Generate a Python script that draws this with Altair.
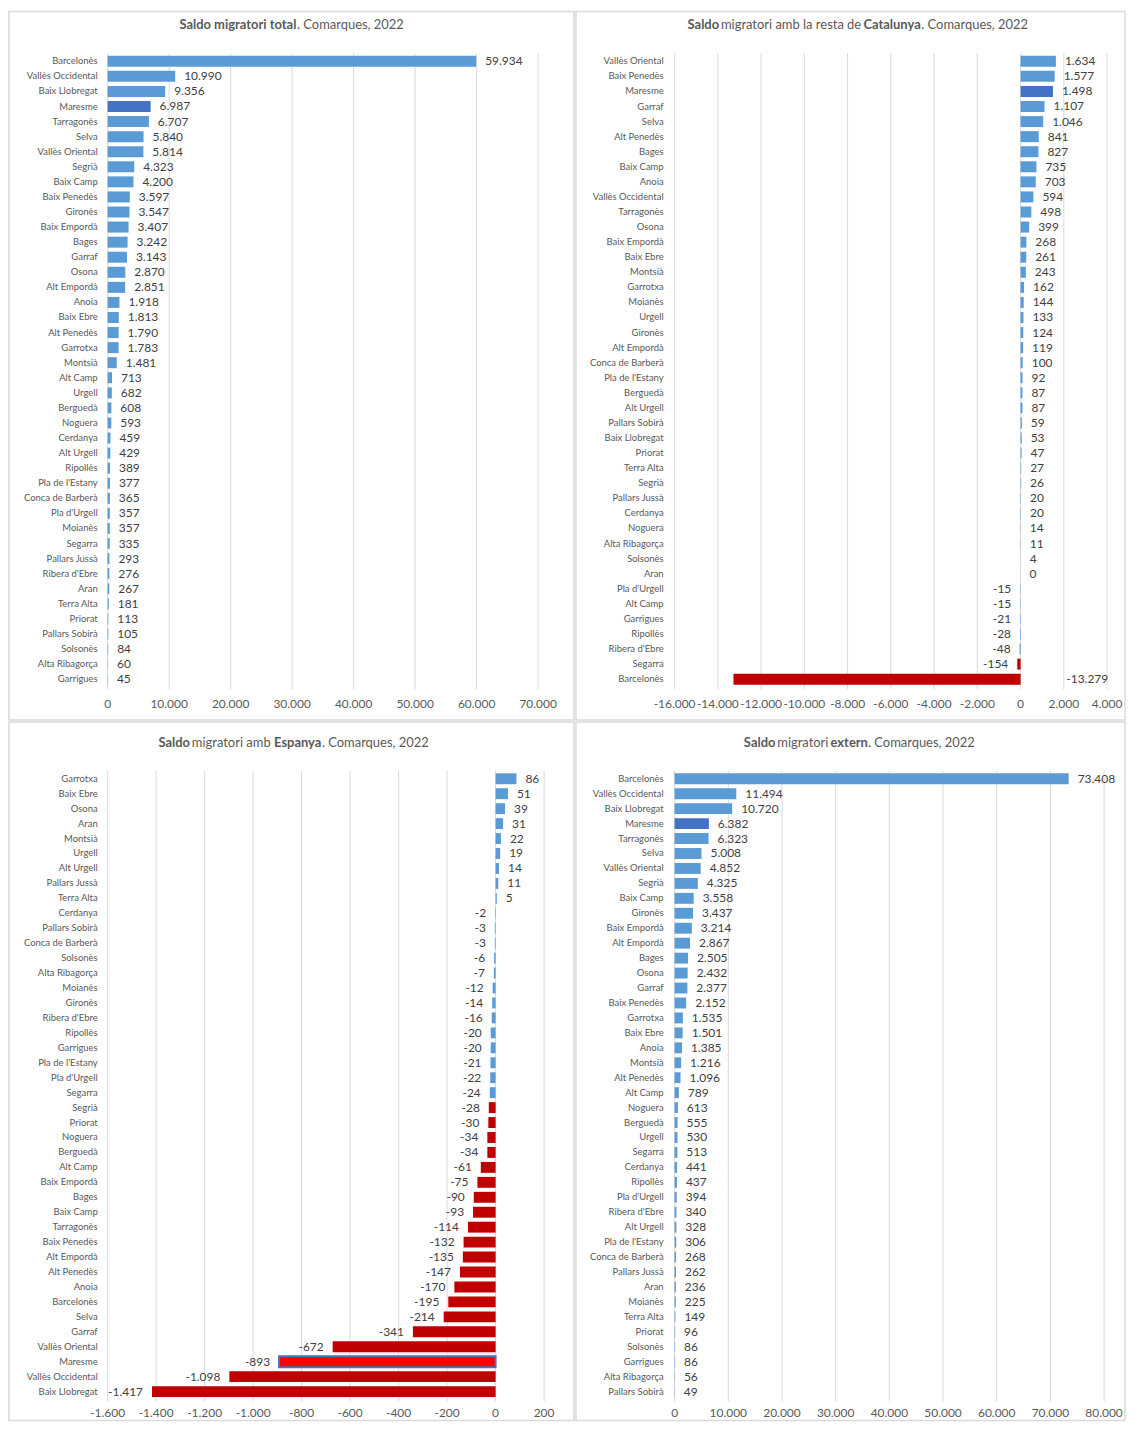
import altair as alt
import pandas as pd

FONT = "Lato"
LIGHT = "#5B9BD5"
DARK = "#4472C4"
RED = "#C00000"
BRIGHT = "#FF0000"
GRID = "#D9D9D9"
TXT = "#595959"
VAL = "#404040"

# ---------------- data ----------------
total_names = ["Barcelonès", "Vallès Occidental", "Baix Llobregat", "Maresme", "Tarragonès", "Selva",
               "Vallès Oriental", "Segrià", "Baix Camp", "Baix Penedès", "Gironès", "Baix Empordà", "Bages",
               "Garraf", "Osona", "Alt Empordà", "Anoia", "Baix Ebre", "Alt Penedès", "Garrotxa", "Montsià",
               "Alt Camp", "Urgell", "Berguedà", "Noguera", "Cerdanya", "Alt Urgell", "Ripollès",
               "Pla de l'Estany", "Conca de Barberà", "Pla d'Urgell", "Moianès", "Segarra", "Pallars Jussà",
               "Ribera d'Ebre", "Aran", "Terra Alta", "Priorat", "Pallars Sobirà", "Solsonès",
               "Alta Ribagorça", "Garrigues"]
total_vals = [59934, 10990, 9356, 6987, 6707, 5840, 5814, 4323, 4200, 3597, 3547, 3407, 3242, 3143, 2870,
              2851, 1918, 1813, 1790, 1783, 1481, 713, 682, 608, 593, 459, 429, 389, 377, 365, 357, 357,
              335, 293, 276, 267, 181, 113, 105, 84, 60, 45]
total_ticks = [0, 10000, 20000, 30000, 40000, 50000, 60000, 70000]

cat_names = ["Vallès Oriental", "Baix Penedès", "Maresme", "Garraf", "Selva", "Alt Penedès", "Bages",
             "Baix Camp", "Anoia", "Vallès Occidental", "Tarragonès", "Osona", "Baix Empordà", "Baix Ebre",
             "Montsià", "Garrotxa", "Moianès", "Urgell", "Gironès", "Alt Empordà", "Conca de Barberà",
             "Pla de l'Estany", "Berguedà", "Alt Urgell", "Pallars Sobirà", "Baix Llobregat", "Priorat",
             "Terra Alta", "Segrià", "Pallars Jussà", "Cerdanya", "Noguera", "Alta Ribagorça", "Solsonès",
             "Aran", "Pla d'Urgell", "Alt Camp", "Garrigues", "Ripollès", "Ribera d'Ebre", "Segarra",
             "Barcelonès"]
cat_vals = [1634, 1577, 1498, 1107, 1046, 841, 827, 735, 703, 594, 498, 399, 268, 261, 243, 162, 144, 133,
            124, 119, 100, 92, 87, 87, 59, 53, 47, 27, 26, 20, 20, 14, 11, 4, 0, -15, -15, -21, -28, -48,
            -154, -13279]
cat_ticks = [-16000, -14000, -12000, -10000, -8000, -6000, -4000, -2000, 0, 2000, 4000]

esp_names = ["Garrotxa", "Baix Ebre", "Osona", "Aran", "Montsià", "Urgell", "Alt Urgell", "Pallars Jussà",
             "Terra Alta", "Cerdanya", "Pallars Sobirà", "Conca de Barberà", "Solsonès", "Alta Ribagorça",
             "Moianès", "Gironès", "Ribera d'Ebre", "Ripollès", "Garrigues", "Pla de l'Estany",
             "Pla d'Urgell", "Segarra", "Segrià", "Priorat", "Noguera", "Berguedà", "Alt Camp",
             "Baix Empordà", "Bages", "Baix Camp", "Tarragonès", "Baix Penedès", "Alt Empordà",
             "Alt Penedès", "Anoia", "Barcelonès", "Selva", "Garraf", "Vallès Oriental", "Maresme",
             "Vallès Occidental", "Baix Llobregat"]
esp_vals = [86, 51, 39, 31, 22, 19, 14, 11, 5, -2, -3, -3, -6, -7, -12, -14, -16, -20, -20, -21, -22, -24,
            -28, -30, -34, -34, -61, -75, -90, -93, -114, -132, -135, -147, -170, -195, -214, -341, -672,
            -893, -1098, -1417]
esp_ticks = [-1600, -1400, -1200, -1000, -800, -600, -400, -200, 0, 200]

ext_names = ["Barcelonès", "Vallès Occidental", "Baix Llobregat", "Maresme", "Tarragonès", "Selva",
             "Vallès Oriental", "Segrià", "Baix Camp", "Gironès", "Baix Empordà", "Alt Empordà", "Bages",
             "Osona", "Garraf", "Baix Penedès", "Garrotxa", "Baix Ebre", "Anoia", "Montsià", "Alt Penedès",
             "Alt Camp", "Noguera", "Berguedà", "Urgell", "Segarra", "Cerdanya", "Ripollès", "Pla d'Urgell",
             "Ribera d'Ebre", "Alt Urgell", "Pla de l'Estany", "Conca de Barberà", "Pallars Jussà", "Aran",
             "Moianès", "Terra Alta", "Priorat", "Solsonès", "Garrigues", "Alta Ribagorça", "Pallars Sobirà"]
ext_vals = [73408, 11494, 10720, 6382, 6323, 5008, 4852, 4325, 3558, 3437, 3214, 2867, 2505, 2432, 2377,
            2152, 1535, 1501, 1385, 1216, 1096, 789, 613, 555, 530, 513, 441, 437, 394, 340, 328, 306, 268,
            262, 236, 225, 149, 96, 86, 86, 56, 49]
ext_ticks = [0, 10000, 20000, 30000, 40000, 50000, 60000, 70000, 80000]


def fmt(v):
    return f"{v:,}".replace(",", ".")


def build(names, vals, fills, ticks, dom, xr, band, grid_y, tick_y, lab_x, title_y, segs,
          width, height, strokes=None, label_at=None):
    df = pd.DataFrame({"c": names, "v": vals})
    df["zero"] = 0
    df["fill"] = fills
    df["stroke"] = strokes if strokes else fills
    df["sw"] = [2 if s != f else 0 for s, f in zip(df["stroke"], df["fill"])]
    df["lab"] = [fmt(v) for v in vals]
    df["lx"] = label_at if label_at else vals
    df["pos"] = [lx >= 0 for lx in df["lx"]]

    xs = alt.Scale(domain=dom, range=xr, nice=False, zero=False)
    ys = alt.Scale(type="band", domain=names, range=band, paddingInner=0.27, paddingOuter=0.135)

    def X(f):
        return alt.X(f, scale=xs, axis=None)

    Y = alt.Y("c:N", scale=ys, axis=None)

    tdf = pd.DataFrame({"t": ticks, "tl": [fmt(t) for t in ticks]})
    grid = alt.Chart(tdf).mark_rule(color=GRID, strokeWidth=1).encode(
        x=X("t:Q"), y=alt.value(grid_y[0]), y2=alt.value(grid_y[1]))
    tlabels = alt.Chart(tdf).mark_text(font=FONT, fontSize=12, color=TXT, align="center",
                                       baseline="middle").encode(
        x=X("t:Q"), y=alt.value(tick_y), text="tl:N")
    bars = alt.Chart(df).mark_bar().encode(
        x=X("v:Q"), x2="zero:Q", y=Y,
        fill=alt.Fill("fill:N", scale=None),
        stroke=alt.Stroke("stroke:N", scale=None),
        strokeWidth=alt.StrokeWidth("sw:Q", scale=None))
    pos = alt.Chart(df[df["pos"]]).mark_text(font=FONT, fontSize=12, color=VAL, align="left",
                                             baseline="middle", dx=9).encode(
        x=X("lx:Q"), y=Y, text="lab:N")
    neg = alt.Chart(df[~df["pos"]]).mark_text(font=FONT, fontSize=12, color=VAL, align="right",
                                              baseline="middle", dx=-9).encode(
        x=X("lx:Q"), y=Y, text="lab:N")
    cats = alt.Chart(df).mark_text(font=FONT, fontSize=9.5, color=TXT, align="right",
                                   baseline="middle").encode(
        x=alt.value(lab_x), y=Y, text="c:N")
    one = pd.DataFrame({"a": [0]})
    titles = []
    for text, tx, bold in segs:
        titles.append(alt.Chart(one).mark_text(
            text=text, font=FONT, fontSize=13, color=TXT, align="left", baseline="middle",
            fontWeight="bold" if bold else "normal").encode(x=alt.value(tx), y=alt.value(title_y)))
    return alt.layer(grid, bars, pos, neg, cats, tlabels, *titles).properties(width=width, height=height)


TOP_BAND = [42.4, 677.6]
BOT_BAND = [49.5, 679.5]

f1 = [DARK if n == "Maresme" else LIGHT for n in total_names]
p1 = build(total_names, total_vals, f1, total_ticks, [0, 70000], [99, 531], TOP_BAND, [42, 680], 695, 89, 14,
           [("Saldo migratori total", 171, True), (". Comarques, 2022", 289, False)], 567, 711)

f2 = [DARK if n == "Maresme" else (RED if v < -100 else LIGHT) for n, v in zip(cat_names, cat_vals)]
lab2 = [1700 if v < -10000 else v for v in cat_vals]
p2 = build(cat_names, cat_vals, f2, cat_ticks, [-16000, 4000], [99, 533], TOP_BAND, [42, 680], 695, 88, 14,
           [("Saldo", 112, True), ("migratori amb la resta de", 145.5, False), ("Catalunya", 288.5, True),
            (". Comarques, 2022", 346.5, False)], 551, 711, label_at=lab2)

f3 = [BRIGHT if n == "Maresme" else (RED if v <= -28 else LIGHT) for n, v in zip(esp_names, esp_vals)]
s3 = [DARK if n == "Maresme" else f for n, f in zip(esp_names, f3)]
p3 = build(esp_names, esp_vals, f3, esp_ticks, [-1600, 200], [99, 537], BOT_BAND, [49, 682], 694, 89, 21,
           [("Saldo", 150, True), ("migratori amb", 183.5, False), ("Espanya", 266, True),
            (". Comarques, 2022", 314, False)], 567, 701, strokes=s3)

f4 = [DARK if n == "Maresme" else LIGHT for n in ext_names]
p4 = build(ext_names, ext_vals, f4, ext_ticks, [0, 80000], [99, 530], BOT_BAND, [49, 682], 694, 88, 21,
           [("Saldo", 168.5, True), ("migratori", 202, False), ("extern", 255.5, True),
            (". Comarques, 2022", 293, False)], 551, 701)

chart = alt.vconcat(
    alt.hconcat(p1, p2, spacing=0),
    alt.hconcat(p3, p4, spacing=0),
    spacing=0,
).properties(padding=0, background="white").configure_view(stroke=GRID, strokeWidth=1.5)

chart.save("out.html", embed_options={"renderer": "svg", "actions": False})
